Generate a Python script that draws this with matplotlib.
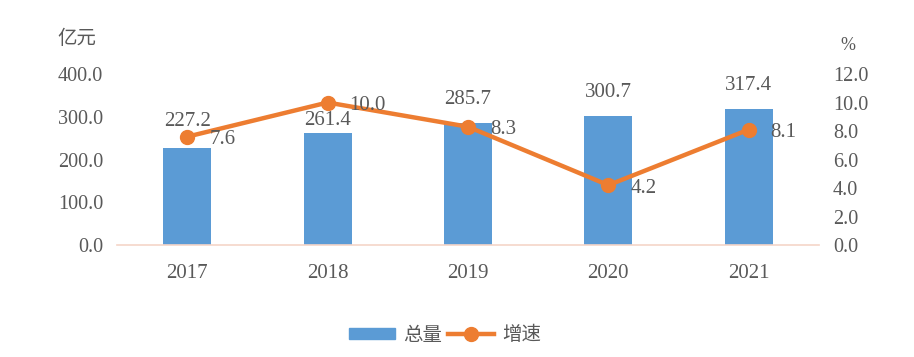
import matplotlib
matplotlib.use("Agg")
import matplotlib.pyplot as plt
from matplotlib.lines import Line2D
from matplotlib.patches import Patch

years = ["2017", "2018", "2019", "2020", "2021"]
total = [227.2, 261.4, 285.7, 300.7, 317.4]
growth = [7.6, 10.0, 8.3, 4.2, 8.1]
left_ticks = [0, 100, 200, 300, 400]
right_ticks = [0, 2, 4, 6, 8, 10, 12]

BAR = "#5b9bd5"
LINE = "#ed7d31"
TXT = "#595959"
NUM_FONT = ["Liberation Serif", "DejaVu Serif"]
CJK_FONT = ["Noto Sans CJK SC", "DejaVu Sans"]

fig = plt.figure(figsize=(9.14, 3.57), dpi=100)
ax = fig.add_axes([0.128, 0.3137, 0.768, 0.479])
ax2 = ax.twinx()

x = list(range(len(years)))
ax.bar(x, total, width=0.343, color=BAR, zorder=2)
ax.set_xlim(-0.5, 4.5)
ax.set_ylim(0, 400)
ax2.set_ylim(0, 12)

ax.set_yticks(left_ticks)
ax.set_yticklabels([f"{v:.1f}" for v in left_ticks], fontsize=14.5, color=TXT, family=NUM_FONT)
ax2.set_yticks(right_ticks)
ax2.set_yticklabels([f"{v:.1f}" for v in right_ticks], fontsize=14.5, color=TXT, family=NUM_FONT)
ax.set_xticks(x)
ax.set_xticklabels(years, fontsize=15, color=TXT, family=NUM_FONT)

for a in (ax, ax2):
    for s in a.spines.values():
        s.set_visible(False)
    a.tick_params(length=0)
ax.spines["bottom"].set_visible(True)
ax.spines["bottom"].set_color("#f5d5c8")
ax.spines["bottom"].set_linewidth(1.2)
ax.tick_params(axis="y", pad=10)
ax.tick_params(axis="x", pad=14)
ax2.tick_params(axis="y", pad=10)

ax2.plot(x, growth, color=LINE, linewidth=3.2, marker="o", markersize=10, zorder=3)

bar_dy = [26, 13, 23, 24, 24]
for xi, v, dy in zip(x, total, bar_dy):
    ax.annotate(f"{v:.1f}", (xi, v), xytext=(0, dy), textcoords="offset pixels",
                ha="center", va="center", fontsize=15, color=TXT, family=NUM_FONT, zorder=4)

for xi, v in zip(x, growth):
    ax2.annotate(f"{v:.1f}", (xi, v), xytext=(22, -3), textcoords="offset pixels",
                 ha="left", va="center", fontsize=15, color=TXT, family=NUM_FONT, zorder=4)

fig.text(77 / 914, 1 - 38 / 357, "亿元", ha="center", va="center", fontsize=14,
         color=TXT, family=CJK_FONT)
fig.text(848 / 914, 1 - 45 / 357, "%", ha="center", va="center", fontsize=13,
         color=TXT, family=NUM_FONT)

handles = [Patch(facecolor=BAR, edgecolor=BAR),
           Line2D([0], [0], color=LINE, linewidth=3.2, marker="o", markersize=10)]
leg = fig.legend(handles, ["总量", "增速"], loc="center", bbox_to_anchor=(445 / 914, 1 - 335 / 357),
                 ncol=2, frameon=False, prop={"family": CJK_FONT, "size": 14},
                 handlelength=2.37, handleheight=0.55, handletextpad=0.4, columnspacing=0.3)
for t in leg.get_texts():
    t.set_color(TXT)

fig.savefig("out.png", dpi=100)
